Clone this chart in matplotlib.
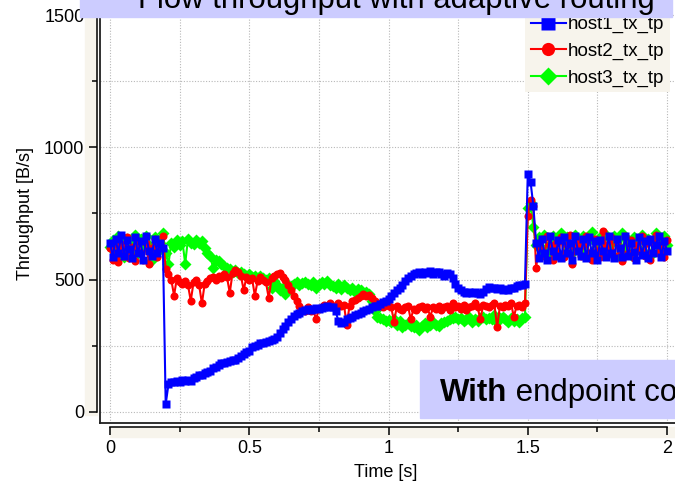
import numpy as np
import matplotlib
matplotlib.use("Agg")
import matplotlib.pyplot as plt
from matplotlib.patches import Rectangle
from matplotlib.lines import Line2D
from matplotlib.ticker import MultipleLocator, FuncFormatter

# sample times (10 ms steps)
time_s = np.linspace(0, 2, 201)

host1_tx_tp = [
    640, 585, 655, 600, 670, 590, 650, 615, 580, 660,
    600, 645, 575, 665, 610, 590, 655, 600, 640, 620,
    30, 105, 115, 112, 118, 115, 120, 117, 122, 118,
    128, 132, 138, 140, 148, 152, 155, 165, 170, 178,
    185, 185, 190, 192, 198, 195, 205, 212, 220, 225,
    232, 245, 250, 255, 262, 260, 265, 268, 272, 275,
    283, 300, 315, 325, 340, 350, 362, 370, 375, 380,
    385, 388, 385, 390, 392, 388, 392, 395, 400, 398,
    396, 380, 345, 335, 340, 350, 355, 360, 365, 372,
    375, 380, 385, 390, 395, 400, 402, 408, 415, 420,
    428, 440, 450, 462, 470, 480, 495, 505, 512, 520,
    525, 530, 520, 528, 525, 532, 520, 528, 530, 520,
    515, 525, 520, 505, 485, 470, 460, 455, 450, 452,
    448, 455, 450, 445, 455, 465, 472, 470, 468, 465,
    470, 462, 465, 460, 468, 470, 475, 478, 480, 485,
    900, 870, 780, 640, 580, 655, 600, 575, 665, 610,
    590, 650, 580, 660, 600, 640, 575, 665, 610, 590,
    655, 580, 660, 600, 645, 575, 650, 610, 585, 665,
    600, 580, 655, 620, 585, 665, 590, 640, 605, 575,
    660, 595, 645, 580, 655, 600, 630, 665, 585, 645,
    610,
]

host2_tx_tp = [
    620, 575, 650, 565, 635, 590, 660, 580, 625, 570,
    645, 600, 575, 640, 560, 620, 655, 585, 630, 665,
    540, 520, 500, 440, 505, 490, 485, 495, 480, 420,
    490, 500, 480, 410, 485, 495, 505, 510, 500, 515,
    505, 520, 510, 450, 525, 535, 530, 515, 460, 510,
    500, 505, 440, 495, 510, 500, 490, 430, 505, 515,
    520, 525, 510, 500, 480, 460, 440, 420, 400, 385,
    380, 395, 380, 385, 350, 390, 395, 405, 400, 410,
    400, 395, 410, 400, 405, 330, 400, 420, 425, 430,
    440, 445, 438, 442, 430, 420, 410, 400, 395, 405,
    400, 395, 340, 400, 390, 385, 395, 400, 350, 390,
    385, 395, 400, 390, 395, 360, 395, 390, 400, 385,
    395, 400, 385, 410, 395, 400, 390, 405, 385, 395,
    400, 410, 395, 350, 405, 400, 395, 405, 410, 320,
    400, 395, 405, 400, 410, 360, 400, 405, 395, 410,
    740, 800, 780, 545, 625, 655, 590, 665, 630, 575,
    640, 600, 660, 585, 630, 670, 560, 625, 650, 590,
    630, 665, 600, 575, 655, 610, 585, 685, 630, 600,
    660, 590, 640, 610, 570, 665, 600, 650, 580, 630,
    610, 665, 590, 650, 575, 640, 670, 600, 630, 585,
    650,
]

host3_tx_tp = [
    625, 650, 600, 665, 630, 585, 655, 610, 640, 670,
    600, 655, 620, 665, 630, 575, 660, 605, 640, 675,
    600, 560, 640, 625, 650, 630, 645, 560, 655, 640,
    635, 650, 640, 645, 620, 600, 590, 545, 575, 570,
    560, 550, 545, 540, 530, 535, 525, 530, 520, 515,
    520, 510, 515, 505, 512, 508, 500, 505, 470, 495,
    480, 460, 470, 445, 480, 475, 485, 490, 480, 488,
    492, 485, 480, 490, 470, 485, 490, 482, 495, 480,
    475, 470, 485, 465, 478, 470, 460, 470, 455, 465,
    460, 450, 455, 445, 420, 380, 360, 355, 350, 345,
    348, 340, 350, 330, 345, 320, 330, 335, 325, 320,
    330, 310, 325, 335, 320, 330, 340, 330, 325, 335,
    340, 345, 350, 355, 360, 350, 355, 345, 350, 360,
    340, 350, 345, 355, 360, 350, 355, 350, 365, 340,
    355, 360, 350, 340, 355, 345, 350, 340, 355, 360,
    770, 790, 700, 630, 660, 600, 670, 625, 590, 665,
    610, 650, 675, 595, 660, 625, 600, 670, 640, 605,
    665, 595, 650, 680, 620, 590, 660, 615, 670, 630,
    600, 665, 635, 585, 675, 610, 650, 595, 660, 640,
    615, 670, 600, 655, 590, 645, 675, 610, 640, 665,
    630,
]

series_names = ["host1_tx_tp", "host2_tx_tp", "host3_tx_tp"]
series_colors = ["#0000FF", "#FF0000", "#00FF00"]
series_markers = ["s", "o", "D"]

plt.rcParams["font.family"] = ["Liberation Sans", "DejaVu Sans"]

W, H = 675, 482
beige = "#F7F4EC"
lavender = "#CCCCFF"


def fx(px):
    return px / W


def fy(py):
    return 1 - py / H


fig = plt.figure(figsize=(W / 100, H / 100), dpi=100, facecolor="white")
ax = fig.add_axes([fx(100), fy(423), fx(675) - fx(100), fy(5) - fy(423)])

# axis strips (beige) like the original tool
fig.add_artist(Rectangle((fx(85), fy(415)), fx(97) - fx(85), fy(7) - fy(415),
                         transform=fig.transFigure, color=beige, zorder=0))
fig.add_artist(Rectangle((fx(110), fy(437)), fx(680) - fx(110), fy(427) - fy(437),
                         transform=fig.transFigure, color=beige, zorder=0))

data = [host1_tx_tp, host2_tx_tp, host3_tx_tp]
msizes = [6.0, 5.8, 6.0]
zorders = [4, 3, 2]
for vals, name, col, mk, ms, zo in zip(data, series_names, series_colors,
                                       series_markers, msizes, zorders):
    ax.plot(time_s, vals, color=col, marker=mk, ms=ms, mec="none", lw=1.5,
            label=name, zorder=zo)

ax.set_xlim(-0.0359, 2.0287)
ax.set_ylim(-41.6, 1537.8)

ax.xaxis.set_major_locator(MultipleLocator(0.5))
ax.xaxis.set_minor_locator(MultipleLocator(0.25))
ax.yaxis.set_major_locator(MultipleLocator(500))
ax.yaxis.set_minor_locator(MultipleLocator(250))
ax.xaxis.set_major_formatter(FuncFormatter(lambda v, p: "%g" % v))
ax.yaxis.set_major_formatter(FuncFormatter(lambda v, p: "%g" % v))

ax.grid(True, which="both", color="#b8b8b8", linestyle=(0, (1, 1.5)), linewidth=0.8)
ax.set_axisbelow(True)

for s in ["top", "right"]:
    ax.spines[s].set_visible(False)
ax.spines["left"].set_position(("outward", 2.2))
ax.spines["bottom"].set_position(("outward", 3.0))
ax.spines["left"].set_bounds(0, 1500)
ax.spines["bottom"].set_bounds(0, 2)
ax.spines["left"].set_linewidth(1.1)
ax.spines["bottom"].set_linewidth(1.1)

ax.tick_params(which="major", length=6, width=1.1, labelsize=13, pad=3)
ax.tick_params(which="minor", length=3.5, width=1.1)

# plot frame
ax.plot([0, 0], [0, 1], transform=ax.transAxes, color="#202020", lw=1.3, clip_on=False, zorder=6)
ax.plot([0, 1], [0, 0], transform=ax.transAxes, color="#202020", lw=1.3, clip_on=False, zorder=6)

ax.set_ylabel("Throughput [B/s]", fontsize=13)
ax.yaxis.set_label_coords(-0.115, 0.5)
ax.set_xlabel("Time [s]", fontsize=13)
ax.xaxis.set_label_coords(0.497, -0.098)

handles = [Line2D([], [], color=c, marker=m, ms=9.5, mec="none", lw=1.5)
           for c, m in zip(series_colors, series_markers)]
leg = ax.legend(handles, series_names, loc="upper left",
                bbox_to_anchor=(fx(525), fy(10.5)), bbox_transform=fig.transFigure,
                fontsize=13.5, frameon=True, fancybox=False, framealpha=1,
                facecolor=beige, edgecolor="none", borderpad=0.3, borderaxespad=0,
                labelspacing=0.5, handlelength=1.87, handletextpad=0.1)

# title box (cut at the top of the picture)
fig.add_artist(Rectangle((fx(80), fy(17)), fx(672) - fx(80), fy(0) - fy(17) + 0.01,
                         transform=fig.transFigure, color=lavender, zorder=5))
fig.text(fx(396), fy(8), "Flow throughput with adaptive routing", ha="center",
         va="baseline", fontsize=22.4, zorder=6)

# annotation box bottom right
fig.add_artist(Rectangle((fx(420), fy(418)), fx(700) - fx(420), fy(360) - fy(418),
                         transform=fig.transFigure, color=lavender, zorder=5))
t1 = fig.text(fx(440), fy(401), "With", fontsize=22.5, fontweight="bold",
              ha="left", va="baseline", zorder=6)
fig.add_artist(matplotlib.text.Annotation(" endpoint congestion control", xy=(1, 0),
                                          xycoords=t1, ha="left", va="bottom",
                                          fontsize=22.5, zorder=6))

fig.savefig("out.png", dpi=100, facecolor="white")
